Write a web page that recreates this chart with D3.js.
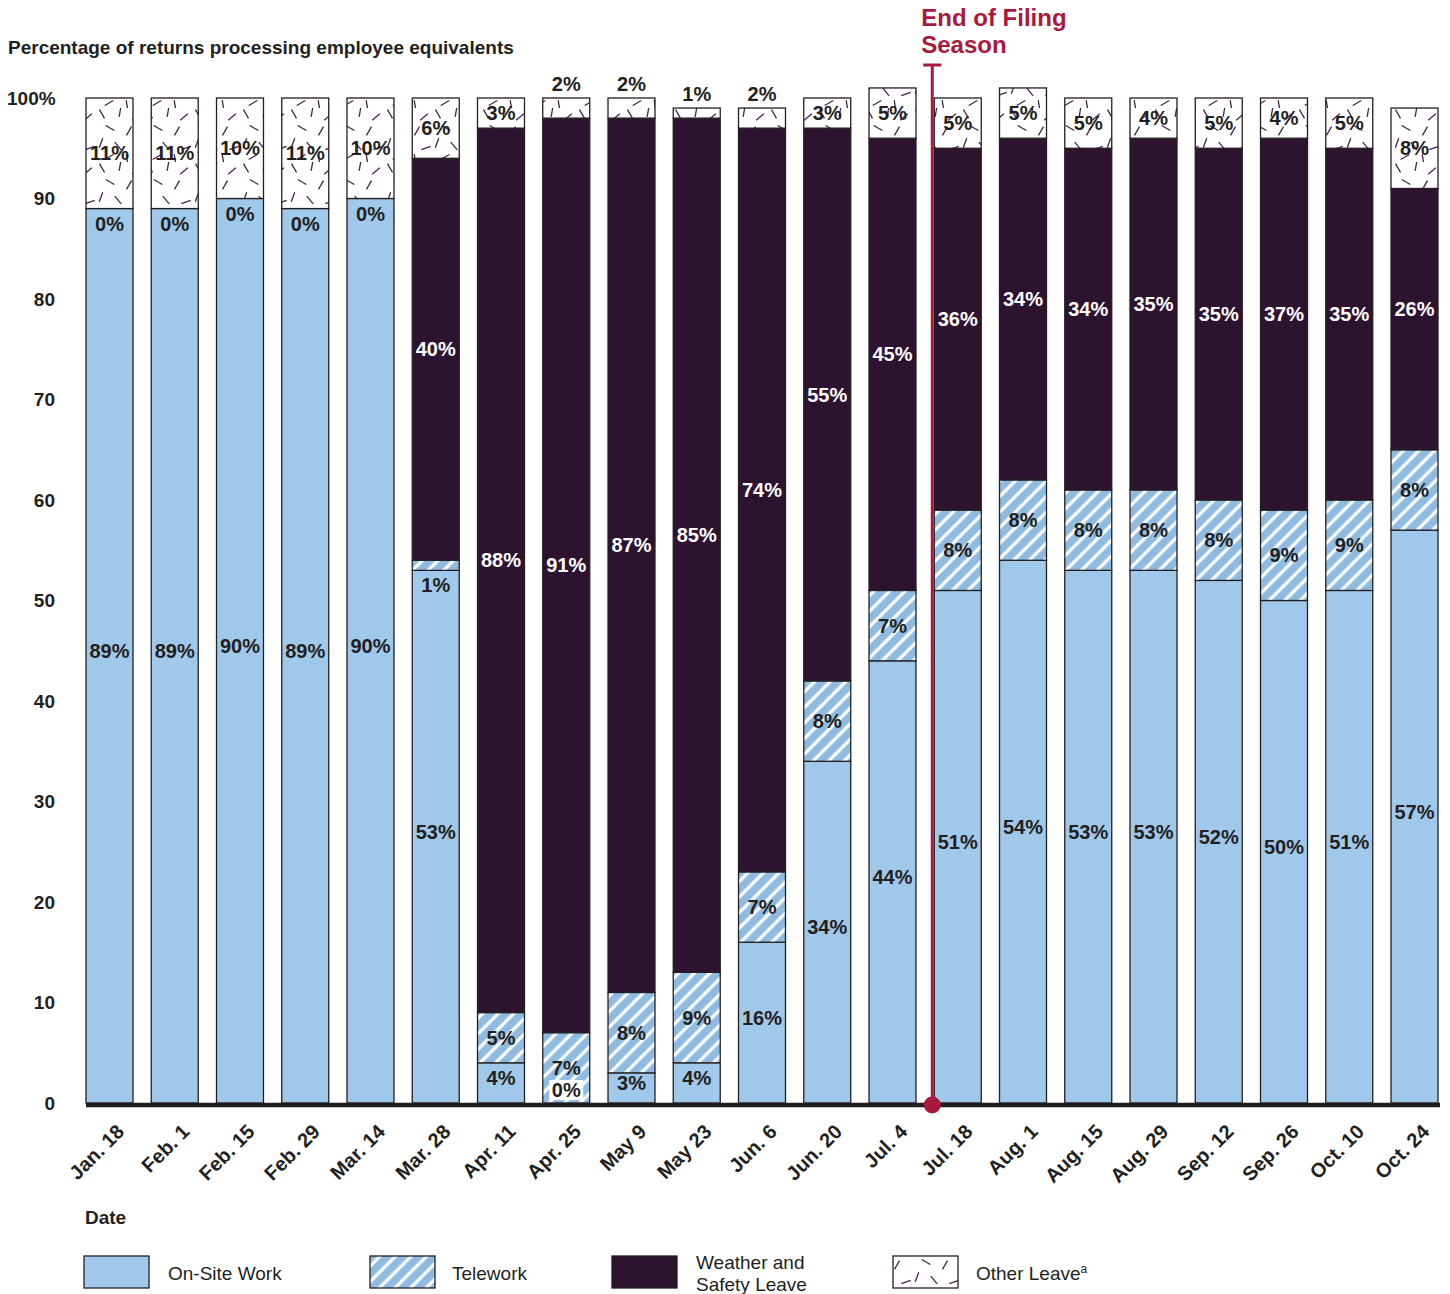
<!DOCTYPE html>
<html>
<head>
<meta charset="utf-8">
<script src="https://cdn.jsdelivr.net/npm/d3@7"></script>
<style>
  html, body { margin: 0; padding: 0; background: #fff; }
  svg { display: block; font-family: "Liberation Sans", Arial, sans-serif; }
</style>
</head>
<body>
<svg id="chart" width="1450" height="1294"></svg>
<script>
const dates = ["Jan. 18","Feb. 1","Feb. 15","Feb. 29","Mar. 14","Mar. 28","Apr. 11","Apr. 25","May 9","May 23","Jun. 6","Jun. 20","Jul. 4","Jul. 18","Aug. 1","Aug. 15","Aug. 29","Sep. 12","Sep. 26","Oct. 10","Oct. 24"];
const onSite   = [89,89,90,89,90,53,4,0,3,4,16,34,44,51,54,53,53,52,50,51,57];
const telework = [0,0,0,0,0,1,5,7,8,9,7,8,7,8,8,8,8,8,9,9,8];
const weather  = [0,0,0,0,0,40,88,91,87,85,74,55,45,36,34,34,35,35,37,35,26];
const other    = [11,11,10,11,10,6,3,2,2,1,2,3,5,5,5,5,4,5,4,5,8];
const yTicks = [0,10,20,30,40,50,60,70,80,90,100];
const seriesNames = ["On-Site Work","Telework","Weather and Safety Leave","Other Leave"];
const seriesKeys = ["onSite","telework","weather","other"];
const filingEnd = "Jul. 18";

const INK = "#231f20", RED = "#a8193d";
const C_ON = "#a0c8ea", C_TW = "#8fbbe1", C_WS = "#2e1330";

const svg = d3.select("#chart");
const defs = svg.append("defs");

// Telework stripes
const pt = defs.append("pattern").attr("id","tw").attr("patternUnits","userSpaceOnUse")
  .attr("width",11).attr("height",11).attr("patternTransform","rotate(45)");
pt.append("rect").attr("width",11).attr("height",11).attr("fill",C_TW);
pt.append("line").attr("x1",2).attr("y1",0).attr("x2",2).attr("y2",11).attr("stroke","#fff").attr("stroke-width",3.2);

// Other leave: scattered dashes
const po = defs.append("pattern").attr("id","ol").attr("patternUnits","userSpaceOnUse")
  .attr("width",48).attr("height",54);
po.append("rect").attr("width",48).attr("height",54).attr("fill","#fff");
const dashes = [[6,6,60],[24,4,100],[40,9,140],[14,20,30],[33,23,120],[5,35,110],[22,38,50],[42,40,160],[13,49,150],[31,51,80]];
dashes.forEach(([x,y,a]) => {
  const r = a*Math.PI/180, L = 5;
  po.append("line").attr("x1",x-Math.cos(r)*L).attr("y1",y-Math.sin(r)*L)
    .attr("x2",x+Math.cos(r)*L).attr("y2",y+Math.sin(r)*L)
    .attr("stroke","#4a2050").attr("stroke-width",1.3);
});
const fills = {onSite:C_ON, telework:"url(#tw)", weather:C_WS, other:"url(#ol)"};

const x = d3.scaleBand().domain(dates).range([86,1438]).paddingInner(0.28).paddingOuter(0);
const y = d3.scaleLinear().domain([0,100]).range([1103,98]);

const rows = dates.map((d,i)=>({date:d, onSite:onSite[i], telework:telework[i], weather:weather[i], other:other[i]}));
const stack = d3.stack().keys(seriesKeys)(rows);

// bars
const g = svg.append("g");
stack.forEach(layer => {
  g.append("g").selectAll("rect").data(layer.filter(d => d[1]-d[0] > 0)).join("rect")
    .attr("x", d => x(d.data.date)).attr("width", x.bandwidth())
    .attr("y", d => y(d[1])).attr("height", d => y(d[0]) - y(d[1]))
    .attr("fill", fills[layer.key]).attr("stroke", INK).attr("stroke-width",1.3);
});

// y axis labels
svg.append("g").selectAll("text").data(yTicks).join("text")
  .attr("x", d => d===100 ? 7 : 55).attr("y", d => y(d)).attr("dy","0.35em")
  .attr("text-anchor", d => d===100 ? "start" : "end")
  .attr("font-size",19).attr("font-weight","bold").attr("fill",INK)
  .text(d => d===100 ? "100%" : d);

// x axis baseline
svg.append("line").attr("x1",86).attr("x2",1440).attr("y1",y(0)+2).attr("y2",y(0)+2)
  .attr("stroke",INK).attr("stroke-width",4.5);

// x labels
svg.append("g").selectAll("text").data(dates).join("text")
  .attr("transform", d => `translate(${x(d)+x.bandwidth()/2+16},${y(0)+30}) rotate(-45)`)
  .attr("text-anchor","end").attr("font-size",20).attr("font-weight","bold").attr("fill",INK)
  .text(d => d);

// value labels
const lab = svg.append("g").attr("font-size",20).attr("font-weight","bold").attr("text-anchor","middle");
stack.forEach(layer => {
  layer.forEach(d => {
    const v = d[1]-d[0], cx = x(d.data.date)+x.bandwidth()/2;
    let ty, col = INK, bg = false;
    const mid = (y(d[0])+y(d[1]))/2;
    if (layer.key === "onSite") {
      if (v === 0) { ty = y(0) - 13; bg = true; } else ty = mid - 5;
    } else if (layer.key === "telework") {
      ty = v < 2 ? y(d[0]) + 15 : mid;
    } else if (layer.key === "weather") {
      if (v === 0) return;
      ty = mid - 10; col = "#fff";
    } else {
      ty = v <= 2 ? y(d[1]) - 14 : mid;
    }
    if (bg) lab.append("rect").attr("x",cx-17).attr("y",ty-10).attr("width",34).attr("height",20).attr("fill","#fff");
    lab.append("text").attr("x",cx).attr("y",ty).attr("dy","0.35em").attr("fill",col).text(v+"%");
  });
});

// title
svg.append("text").attr("x",8).attr("y",54).attr("font-size",19).attr("font-weight","bold").attr("fill",INK)
  .text("Percentage of returns processing employee equivalents");

// end of filing season marker
const fx = x(filingEnd) - 2;
svg.append("line").attr("x1",fx).attr("x2",fx).attr("y1",65).attr("y2",y(0)+2).attr("stroke",RED).attr("stroke-width",3);
svg.append("line").attr("x1",fx-9).attr("x2",fx+9).attr("y1",65).attr("y2",65).attr("stroke",RED).attr("stroke-width",3);
svg.append("circle").attr("cx",fx).attr("cy",y(0)+2).attr("r",8.5).attr("fill",RED);
const ft = svg.append("text").attr("font-size",24).attr("font-weight","bold").attr("fill",RED);
ft.append("tspan").attr("x",fx-11).attr("y",26).text("End of Filing");
ft.append("tspan").attr("x",fx-11).attr("y",53).text("Season");

// axis title
svg.append("text").attr("x",85).attr("y",1224).attr("font-size",19).attr("font-weight","bold").attr("fill",INK).text("Date");

// legend
const legX = [84,370,612,893];
const lg = svg.append("g");
seriesKeys.forEach((k,i) => {
  lg.append("rect").attr("x",legX[i]).attr("y",1256).attr("width",65).attr("height",32)
    .attr("fill",fills[k]).attr("stroke",INK).attr("stroke-width",1.3);
  const t = lg.append("text").attr("font-size",19).attr("fill",INK);
  if (k === "weather") {
    t.append("tspan").attr("x",legX[i]+84).attr("y",1269).text("Weather and");
    t.append("tspan").attr("x",legX[i]+84).attr("y",1291).text("Safety Leave");
  } else if (k === "other") {
    t.attr("x",legX[i]+83).attr("y",1280).text("Other Leave");
    t.append("tspan").attr("font-size",12).attr("dy",-7).text("a");
  } else {
    t.attr("x",legX[i]+(k==="onSite"?84:82)).attr("y",1280).text(seriesNames[i]);
  }
});
</script>
</body>
</html>
